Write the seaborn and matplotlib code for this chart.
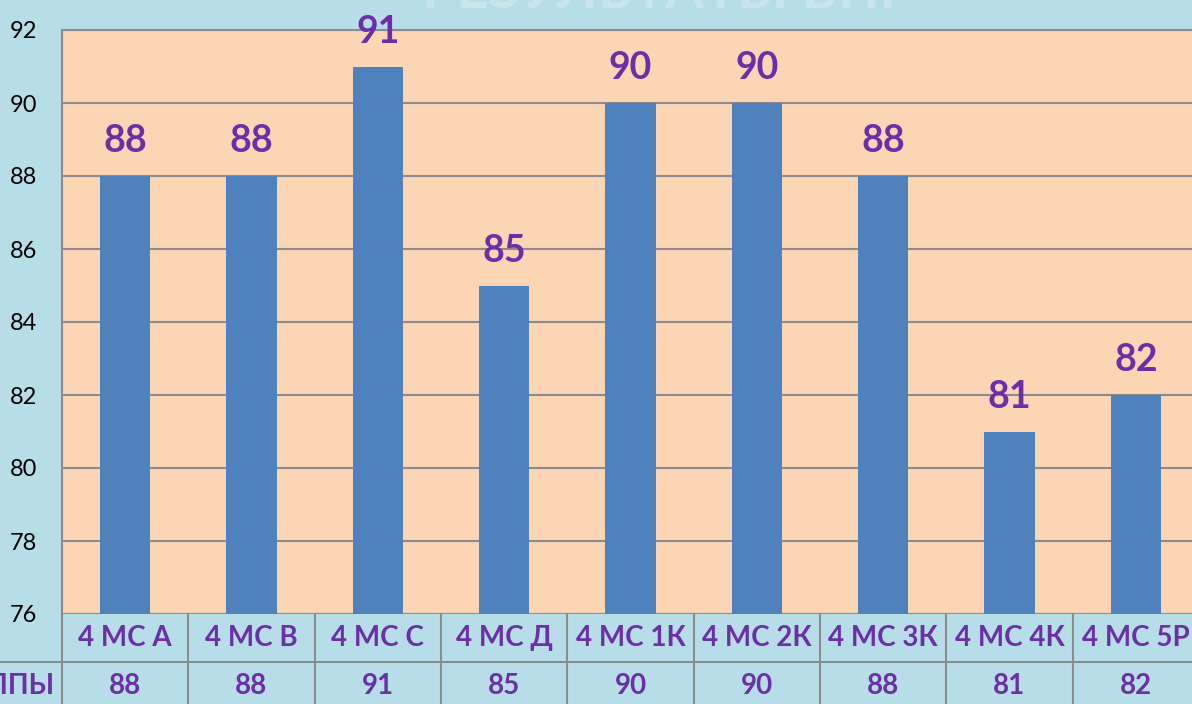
import matplotlib
matplotlib.use("Agg")
import matplotlib.pyplot as plt
import seaborn as sns
import pandas as pd

groups = ["4 МС А", "4 МС В", "4 МС С", "4 МС Д", "4 МС 1К",
          "4 МС 2К", "4 МС 3К", "4 МС 4К", "4 МС 5Р"]
scores = [88, 88, 91, 85, 90, 90, 88, 81, 82]
row_label = "ГРУППЫ"
y_ticks = [76, 78, 80, 82, 84, 86, 88, 90, 92]

sns.set_theme(style="white")
plt.rcParams['font.family'] = ['Lato', 'Open Sans', 'DejaVu Sans']

bg = "#B7DEE8"
plot_bg = "#FCD5B5"
bar_col = "#4F81BD"
purple = "#6B2FA8"
line_col = "#8C8C8C"

W, H = 1192, 704
fig = plt.figure(figsize=(W / 100, H / 100), dpi=100, facecolor=bg)
left, right, top, bottom = 62, 1199, 30, 614
ax = fig.add_axes([left / W, (H - bottom) / H, (right - left) / W, (bottom - top) / H])
ax.set_facecolor(plot_bg)

df = pd.DataFrame({"group": groups, "score": scores})
sns.barplot(data=df, x="group", y="score", color=bar_col, width=0.4,
            saturation=1, linewidth=0, edgecolor=bar_col, ax=ax, zorder=3)

ax.set_ylim(76, 92)
ax.set_xlim(-0.5, len(groups) - 0.5)
ax.set_yticks(y_ticks)
ax.set_yticklabels([str(t) for t in y_ticks], fontsize=17, color="black")
ax.tick_params(axis="y", length=0, pad=18)
ax.set_xticks([])
ax.set_xlabel("")
ax.set_ylabel("")
ax.yaxis.grid(True, color=line_col, linewidth=1.5, zorder=0)
ax.set_axisbelow(True)
for s in ["right", "bottom"]:
    ax.spines[s].set_visible(False)
for s in ["top", "left"]:
    ax.spines[s].set_color(line_col)
    ax.spines[s].set_linewidth(1.5)

# data labels
for i, v in enumerate(scores):
    ax.annotate(str(v), (i, v), xytext=(0, 25), textcoords="offset points",
                ha="center", va="center", fontsize=27, color=purple,
                fontweight="bold", zorder=5)

# data table below axes
trans = ax.get_xaxis_transform()
row1_y = -(662 - 614) / (bottom - top)
row2_bot = -(720 - 614) / (bottom - top)
ax.plot([-1.0, len(groups)], [row1_y, row1_y], transform=trans,
        color=line_col, lw=1.5, clip_on=False)
for k in range(len(groups) + 1):
    x = k - 0.5
    ax.plot([x, x], [0, row2_bot], transform=trans, color=line_col,
            lw=1.5, clip_on=False)
mid1 = row1_y / 2
mid2 = -(686 - 614) / (bottom - top)
for i, (g, v) in enumerate(zip(groups, scores)):
    ax.text(i, mid1, g, transform=trans, ha="center", va="center",
            fontsize=20, color=purple, fontweight="bold")
    ax.text(i, mid2, str(v), transform=trans, ha="center", va="center",
            fontsize=20, color=purple, fontweight="bold")
fig.text(55 / W, (H - 686) / H, row_label, ha="right", va="center",
         fontsize=20, color=purple, fontweight="bold")

# faded title, mostly cut off at the top
fig.text(0.56, 1.012, "РЕЗУЛЬТАТЫ ВПР", ha="center", va="center",
         fontsize=40, color="#D6E9F2", alpha=0.6, fontweight="bold")

fig.savefig("out.png", dpi=100, facecolor=bg)
